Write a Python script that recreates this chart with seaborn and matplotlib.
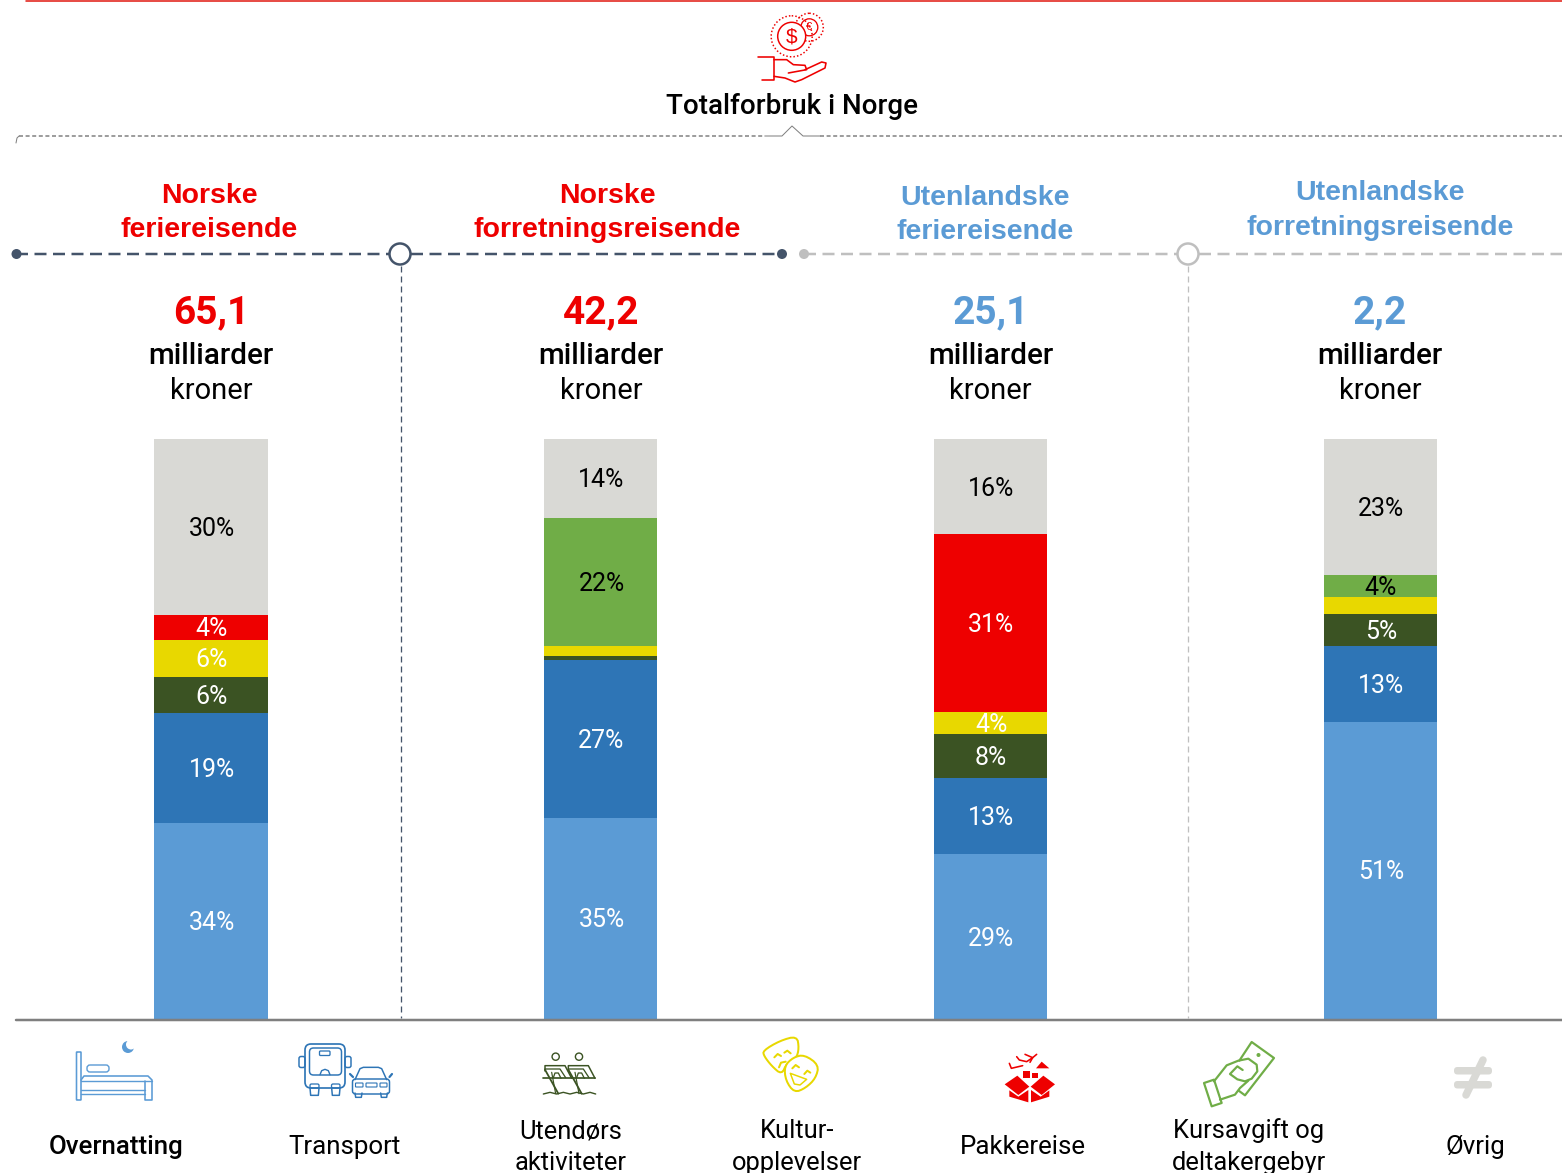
import numpy as np
import pandas as pd
import seaborn as sns
import matplotlib.pyplot as plt
from matplotlib.lines import Line2D
from matplotlib.patches import Circle, FancyBboxPatch, Polygon

groups = ['Norske ferie', 'Norske forretning', 'Utenlandske ferie', 'Utenlandske forretning']
overnatting = [33.8, 34.7, 28.4, 51.2]
transport = [19.0, 27.2, 13.1, 13.1]
utendors = [6.2, 0.7, 7.6, 5.5]
kultur = [6.4, 1.7, 3.8, 2.9]
pakkereise = [4.3, 0.0, 30.7, 0.0]
kursavgift = [0.0, 22.1, 0.0, 3.8]
ovrig = [30.3, 13.6, 16.4, 23.5]

overnatting_labels = ['34%', '35%', '29%', '51%']
transport_labels = ['19%', '27%', '13%', '13%']
utendors_labels = ['6%', '', '8%', '5%']
kultur_labels = ['6%', '', '4%', '']
pakkereise_labels = ['4%', '', '31%', '']
kursavgift_labels = ['', '22%', '', '4%']
ovrig_labels = ['30%', '14%', '16%', '23%']

totals = ['65,1', '42,2', '25,1', '2,2']
RED = '#EE0000'
LIGHT_BLUE = '#5B9BD5'
BLUE = '#2E75B6'
DARK_GREEN = '#3B5323'
YELLOW = '#E8D800'
GREEN = '#70AD47'
GRAY = '#D9D9D5'
SLATE = '#44546A'
LINE_GRAY = '#BFBFBF'

layers = [
    ('Overnatting', overnatting, overnatting_labels, LIGHT_BLUE, 'white'),
    ('Transport', transport, transport_labels, BLUE, 'white'),
    ('Utendors', utendors, utendors_labels, DARK_GREEN, 'white'),
    ('Kultur', kultur, kultur_labels, YELLOW, 'white'),
    ('Pakkereise', pakkereise, pakkereise_labels, RED, 'white'),
    ('Kursavgift', kursavgift, kursavgift_labels, GREEN, 'black'),
    ('Ovrig', ovrig, ovrig_labels, GRAY, 'black'),
]

W, H = 1562, 1173
FONT = 'Roboto'
HEAD_FONT = 'Liberation Sans'
PX = 0.72

sns.set_theme(style='white')
plt.rcParams['font.family'] = [FONT, 'DejaVu Sans']

fig = plt.figure(figsize=(W / 100, H / 100), dpi=100)
ax = fig.add_axes([16 / W, 1 - 1019 / H, (W - 16) / W, 580 / H])

df = pd.DataFrame({name: vals for name, vals, _, _, _ in layers})
df['group'] = groups
bottom = np.zeros(len(groups))
for name, vals, labels, color, label_color in layers:
    sns.barplot(data=df, x='group', y=name, color=color, saturation=1, width=0.29,
                bottom=bottom, errorbar=None, linewidth=0, edgecolor='none', ax=ax)
    texts = ax.bar_label(ax.containers[-1], labels=labels, label_type='center', color=label_color,
                         fontsize=18, family=FONT)
    for t in texts:
        t.xyann = (0.6, -1.4)
    bottom = bottom + np.array(vals)

ax.set_xlim((16 - 211) / 389.67, (W - 211) / 389.67)
ax.set_ylim(0, 100)
ax.axis('off')

# everything around the bars is drawn in pixel coordinates
deco = fig.add_axes([0, 0, 1, 1], zorder=5)
deco.set_xlim(0, W)
deco.set_ylim(H, 0)
deco.axis('off')
deco.patch.set_alpha(0)


def line(xs, ys, color, lw=1.5, dash=None, **kw):
    ls = '-' if dash is None else (0, (dash[0] / lw, dash[1] / lw))
    deco.add_line(Line2D(xs, ys, color=color, lw=lw * PX, ls=ls, dash_capstyle='butt',
                         solid_joinstyle='round', **kw))


def ring(x, y, r, color, lw=1.5, dotted=False, fc='none', z=3):
    ls = (0, (1, 1.4)) if dotted else '-'
    deco.add_patch(Circle((x, y), r, fc=fc, ec=color, lw=lw * PX, ls=ls, zorder=z))


def box(x, y, w, h, color, lw=1.5, r=2):
    deco.add_patch(FancyBboxPatch((x, y), w, h, boxstyle='round,pad=0,rounding_size=%s' % r,
                                  fc='none', ec=color, lw=lw * PX))


def crop(ox, oy, pts):
    arr = np.array(pts, dtype=float) / 3
    return arr[:, 0] + ox, arr[:, 1] + oy


def cline(ox, oy, pts, color, lw=1.5):
    xs, ys = crop(ox, oy, pts)
    line(xs, ys, color, lw)


def cshape(ox, oy, pts, color, lw=0, fill=True, soft=False):
    xs, ys = crop(ox, oy, pts)
    xy = np.column_stack([xs, ys])
    if soft:
        for _ in range(2):
            nxt = np.roll(xy, -1, axis=0)
            out = np.empty((len(xy) * 2, 2))
            out[0::2] = 0.75 * xy + 0.25 * nxt
            out[1::2] = 0.25 * xy + 0.75 * nxt
            xy = out
    deco.add_patch(Polygon(xy, closed=True, fc=color if fill else 'white', ec=color if lw else 'none',
                           lw=lw * PX, joinstyle='round'))


# top rules
line([26, W], [0.6, 0.6], '#E2231A', lw=1.6)
line([19, 765], [136, 136], '#7F7F7F', lw=1.5, dash=(4, 2.6))
line([765, 782, 792, 803, 820], [136, 136, 126, 136, 136], '#7F7F7F', lw=1)
line([820, W], [136, 136], '#7F7F7F', lw=1.5, dash=(4, 2.6))
line([16, 17, 19], [143, 138, 136], '#7F7F7F', lw=1)

# coins and hand
ring(809.3, 27.3, 8.5, RED, 1.3)
ring(809.3, 27.3, 14, RED, 1.5, dotted=True)
ring(791.7, 36.3, 14, RED, 1.5, fc='white', z=4)
ring(791.7, 36.3, 20.5, RED, 1.5, dotted=True, z=4)
deco.text(791.7, 36.5, '$', color=RED, fontsize=15, ha='center', va='center', family=HEAD_FONT, zorder=5)
deco.text(809.5, 27.3, '€', color=RED, fontsize=8, ha='center', va='center', family=HEAD_FONT)
cline(750, 8, [(25, 148), (72, 148), (72, 215), (35, 215)], RED, 1.6)
cline(750, 8, [(72, 155), (110, 155), (130, 170), (165, 172), (170, 185), (115, 195)], RED, 1.6)
cline(750, 8, [(72, 205), (105, 210), (135, 222), (155, 215), (225, 180), (228, 165), (215, 162), (165, 185)], RED, 1.6)

deco.text(792.5, 107, 'Totalforbruk i Norge', color='black', fontsize=20, fontweight='medium',
          ha='center', va='center')

# group headings
heads = [(209, 196, 230, 'Norske', 'feriereisende', RED),
         (607, 196, 230, 'Norske', 'forretningsreisende', RED),
         (985, 198, 232, 'Utenlandske', 'feriereisende', LIGHT_BLUE),
         (1380, 193, 228, 'Utenlandske', 'forretningsreisende', LIGHT_BLUE)]
for x, y1, y2, first, second, color in heads:
    deco.text(x, y1, first, color=color, fontsize=20.5, fontweight='bold', family=HEAD_FONT,
              ha='center', va='center')
    deco.text(x, y2, second, color=color, fontsize=20.5, fontweight='bold', family=HEAD_FONT,
              ha='center', va='center')

# dashed group rules
line([16, 390], [254, 254], SLATE, 2.5, dash=(12, 6.5))
line([411, 782], [254, 254], SLATE, 2.5, dash=(12, 6.5))
line([804, 1178], [254, 254], LINE_GRAY, 2.5, dash=(12, 6.5))
line([1199, W], [254, 254], LINE_GRAY, 2.5, dash=(12, 6.5))
deco.add_patch(Circle((16.5, 254), 5, fc=SLATE, ec='none'))
deco.add_patch(Circle((782, 254), 5, fc=SLATE, ec='none'))
deco.add_patch(Circle((804, 254), 5, fc=LINE_GRAY, ec='none'))
ring(400, 254, 10.5, SLATE, 2.5, fc='white')
ring(1188, 254, 10.5, LINE_GRAY, 2.5, fc='white')
line([401, 401], [266, 1018], SLATE, 1.3, dash=(6, 4))
line([1188, 1188], [266, 1018], LINE_GRAY, 1.3, dash=(6, 4))
line([16, W], [1020, 1020], '#7F7F7F', 2.5)

centers = [211, 601, 990.5, 1380]
total_colors = [RED, RED, LIGHT_BLUE, LIGHT_BLUE]
for x, total, color in zip(centers, totals, total_colors):
    deco.text(x, 313, total, color=color, fontsize=28, fontweight='bold', ha='center', va='center')
    deco.text(x, 356, 'milliarder', color='black', fontsize=21.3, fontweight='medium', ha='center', va='center')
    deco.text(x, 391, 'kroner', color='black', fontsize=21, ha='center', va='center')

# legend texts
legend_single = [(116, 'Overnatting', 'medium'), (345, 'Transport', 'normal'),
                 (1023, 'Pakkereise', 'normal'), (1475, 'Øvrig', 'normal')]
for x, txt, weight in legend_single:
    deco.text(x, 1147, txt, color='black', fontsize=18.6, fontweight=weight, ha='center', va='center')
legend_double = [(571, 'Utendørs', 'aktiviteter'), (797, 'Kultur-', 'opplevelser'),
                 (1249, 'Kursavgift og', 'deltakergebyr')]
for x, first, second in legend_double:
    deco.text(x, 1131, first, color='black', fontsize=18.4, ha='center', va='center')
    deco.text(x, 1163, second, color='black', fontsize=18.4, ha='center', va='center')

# bed
c = LIGHT_BLUE
box(76.5, 1052, 4.5, 48, c, 1.6, 0.5)
box(87, 1065, 22, 7, c, 1.4, 3)
line([81, 84, 148, 152, 152, 145, 145], [1080, 1076, 1076, 1080, 1100, 1100, 1081], c, 1.6)
line([81, 152], [1081, 1081], c, 1.4)
line([81, 145], [1090, 1090], c, 1.4)
line([81, 145], [1094, 1094], c, 1.4)
deco.add_patch(Circle((128, 1047), 6, fc=c, ec='none'))
deco.add_patch(Circle((131, 1044.5), 5, fc='white', ec='none'))

# bus and car
c = BLUE
box(305, 1044, 40, 44, c, 1.7, 6)
box(309.5, 1048, 32, 27, c, 1.5, 4)
box(319.5, 1051, 10.5, 4.5, c, 1.3, 1)
box(299, 1056.5, 6, 11, c, 1.5, 2)
box(345, 1056.5, 6, 11, c, 1.5, 2)
box(310, 1084, 9, 4, c, 1.3, 1.5)
box(331.5, 1084, 8.5, 4, c, 1.3, 1.5)
cline(290, 1038, [(90, 110), (95, 98), (105, 94), (115, 98), (120, 110)], c, 1.4)
cline(290, 1038, [(60, 150), (62, 172), (85, 172), (87, 150)], c, 1.5)
cline(290, 1038, [(125, 150), (127, 172), (148, 172), (150, 150)], c, 1.5)
box(352.5, 1079, 37, 15, c, 1.5, 3)
cline(290, 1038, [(195, 125), (210, 92), (220, 88), (265, 88), (275, 92), (290, 125)], c, 1.5)
line([353, 350], [1077, 1074], c, 2.2)
line([389.5, 392], [1077, 1074], c, 2.2)
box(355.5, 1083, 7.5, 4, c, 1.1, 0.5)
box(366, 1083, 11, 4, c, 1.1, 0.5)
box(380, 1083, 7, 4, c, 1.1, 0.5)
cline(290, 1038, [(195, 165), (197, 178), (214, 178), (216, 165)], c, 1.5)
cline(290, 1038, [(272, 165), (274, 178), (290, 178), (292, 165)], c, 1.5)

# rowers
c = DARK_GREEN
for dz in [0, 70]:
    ring(535 + (62 + dz) / 3, 1035 + 65 / 3, 3.6, c, 1.4)
    cline(535, 1035, [(30 + dz, 108), (30 + dz, 92), (90 + dz, 92), (110 + dz, 130)], c, 1.5)
    cline(535, 1035, [(30 + dz, 102), (75 + dz, 102), (92 + dz, 128)], c, 1.3)
    cline(535, 1035, [(30 + dz, 104), (70 + dz, 176)], c, 1.8)
    cline(535, 1035, [(50 + dz, 112), (62 + dz, 176)], c, 1.2)
    cline(535, 1035, [(55 + dz, 128), (60 + dz, 114), (70 + dz, 114), (78 + dz, 130)], c, 1.3)
cline(535, 1035, [(24, 130), (180, 130)], c, 1.7)
cline(535, 1035, [(25, 177), (45, 172), (65, 177), (85, 172), (105, 177), (125, 172), (145, 177), (165, 172), (182, 177)], c, 1.4)

# masks
c = YELLOW
cshape(755, 1030, [(24, 62), (75, 32), (126, 18), (132, 55), (124, 85), (95, 100), (80, 134), (50, 108), (27, 78)],
       c, 2, fill=False, soft=True)
cshape(755, 1030, [(88, 108), (115, 82), (148, 74), (192, 105), (182, 145), (152, 174), (118, 188), (92, 152)],
       c, 2, fill=False, soft=True)
cline(755, 1030, [(58, 82), (68, 72), (78, 78)], c, 2)
cline(755, 1030, [(88, 68), (97, 62), (107, 70)], c, 2)
cline(755, 1030, [(72, 112), (78, 98), (92, 95)], c, 2)
cline(755, 1030, [(112, 115), (122, 105), (132, 112)], c, 2)
cline(755, 1030, [(148, 132), (157, 122), (166, 128)], c, 2)
cshape(755, 1030, [(106, 130), (155, 148), (135, 165), (118, 162)], c, 1.5, fill=False)

# package
c = RED
cshape(1000, 1045, [(14, 118), (52, 92), (88, 125), (55, 150)], c)
cshape(1000, 1045, [(92, 125), (130, 92), (165, 118), (125, 150)], c)
cshape(1000, 1045, [(28, 136), (55, 155), (85, 135), (85, 172), (28, 155)], c)
cshape(1000, 1045, [(93, 135), (122, 155), (148, 136), (148, 155), (93, 172)], c)
cshape(1000, 1045, [(68, 78), (90, 78), (90, 100), (68, 100)], c)
cshape(1000, 1045, [(97, 84), (115, 84), (115, 100), (97, 100)], c)
cshape(1000, 1045, [(108, 70), (125, 50), (148, 70)], c)
cline(1000, 1045, [(28, 55), (34, 70), (68, 62)], c, 1.6)
cline(1000, 1045, [(50, 35), (58, 45), (80, 50), (98, 38), (110, 28)], c, 1.6)
cline(1000, 1045, [(75, 28), (98, 38), (90, 52)], c, 1.6)

# money in hand
c = GREEN
cline(1200, 1038, [(118, 68), (155, 12), (222, 60), (135, 172), (116, 158)], c, 2.2)
cshape(1200, 1038, [(12, 135), (42, 125), (65, 195), (35, 205)], c, 2.2, fill=False)
cline(1200, 1038, [(42, 130), (80, 82), (115, 68), (145, 62), (170, 80), (172, 100), (155, 122), (135, 130),
                   (112, 124), (90, 108), (112, 85), (128, 96)], c, 2.2)
cline(1200, 1038, [(60, 185), (105, 170), (120, 150), (145, 128)], c, 2.2)
deco.add_patch(Circle((1258.5, 1055), 2, fc=c, ec='none'))

# not equal
c = GRAY
deco.add_patch(FancyBboxPatch((1454, 1067), 38, 7.5, boxstyle='round,pad=0,rounding_size=3.5', fc=c, ec='none'))
deco.add_patch(FancyBboxPatch((1454, 1081), 38, 7.5, boxstyle='round,pad=0,rounding_size=3.5', fc=c, ec='none'))
line([1483, 1466], [1060, 1095], c, 7.5, solid_capstyle='round')

fig.savefig('out.png', dpi=100)
